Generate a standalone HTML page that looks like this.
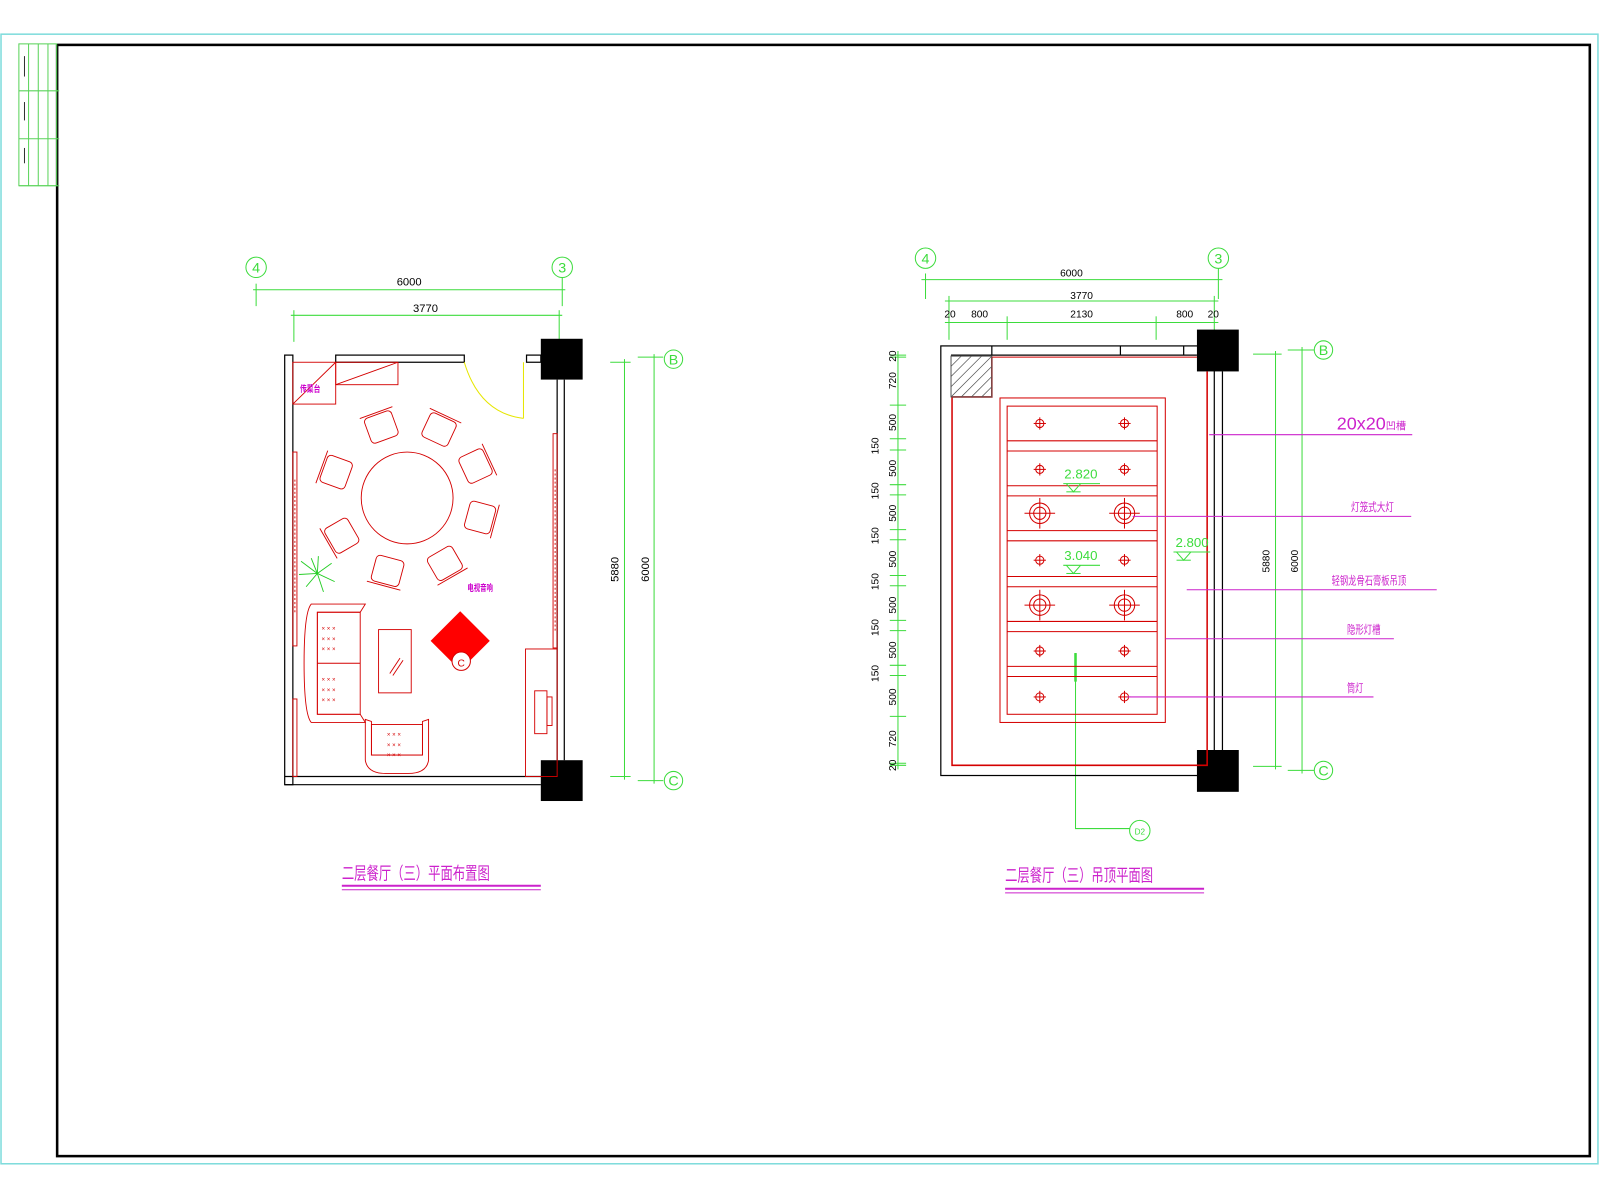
<!DOCTYPE html>
<html><head><meta charset="utf-8"><style>html,body{margin:0;padding:0;background:#fff}svg{display:block}</style></head>
<body>
<svg width="1600" height="1200" viewBox="0 0 1568 1176" xmlns="http://www.w3.org/2000/svg" font-family="Liberation Sans, Noto Sans CJK SC, sans-serif">
<rect width="1568" height="1176" fill="#fff"/>
<!-- frame -->
<rect x="1" y="33.5" width="1565" height="1107" fill="none" stroke="#7fdcdc" stroke-width="1.5"/>
<rect x="56" y="44" width="1502" height="1089" fill="none" stroke="#000" stroke-width="2.5"/>
<g stroke="#5ad35a" stroke-width="1" fill="none">
<rect x="18.5" y="43" width="37" height="139"/>
<line x1="28" y1="43" x2="28" y2="182"/><line x1="37.5" y1="43" x2="37.5" y2="182"/><line x1="47" y1="43" x2="47" y2="182"/>
<line x1="18.5" y1="89" x2="58" y2="89"/><line x1="18.5" y1="136" x2="58" y2="136"/><line x1="18.5" y1="182" x2="58" y2="182"/>
</g>
<g stroke="#333" stroke-width="1"><line x1="24" y1="55" x2="24" y2="75"/><line x1="24" y1="100" x2="24" y2="118"/><line x1="24" y1="145" x2="24" y2="160"/></g>

<!-- ================= LEFT PLAN ================= -->
<g stroke="#3ddc3d" stroke-width="1" fill="none">
<circle cx="251" cy="262" r="10"/><circle cx="551" cy="262" r="10"/>
<line x1="248" y1="284" x2="554" y2="284"/><line x1="251" y1="278" x2="251" y2="300"/><line x1="551" y1="272" x2="551" y2="300"/>
<line x1="285" y1="309" x2="551" y2="309"/><line x1="288" y1="304" x2="288" y2="335"/><line x1="548" y1="304" x2="548" y2="335"/>
<line x1="612" y1="352" x2="612" y2="764"/><line x1="598" y1="355" x2="618" y2="355"/><line x1="598" y1="761" x2="618" y2="761"/>
<line x1="641" y1="347" x2="641" y2="768"/><line x1="625" y1="350" x2="650" y2="350"/><line x1="625" y1="765" x2="650" y2="765"/>
<circle cx="660" cy="352" r="9"/><circle cx="660" cy="765" r="9"/>
</g>
<g fill="#3ddc3d" font-size="14" text-anchor="middle">
<text x="251" y="267">4</text><text x="551" y="267">3</text>
<text x="660" y="357">B</text><text x="660" y="770">C</text>
</g>
<g fill="#000" font-size="11" text-anchor="middle">
<text x="401" y="280">6000</text><text x="417" y="306">3770</text>
<text transform="translate(606,558) rotate(-90)">5880</text>
<text transform="translate(636,558) rotate(-90)">6000</text>
</g>
<!-- walls -->
<g stroke="#000" stroke-width="1.2" fill="none">
<rect x="279" y="348" width="8" height="421"/>
<rect x="329" y="348" width="126" height="7"/>
<rect x="516" y="348" width="14" height="7"/>
<line x1="546" y1="372" x2="546" y2="745"/><line x1="553" y1="372" x2="553" y2="745"/>
<line x1="279" y1="761" x2="530" y2="761"/><line x1="279" y1="769" x2="530" y2="769"/>
</g>
<rect x="530" y="332" width="41" height="40" fill="#000"/>
<rect x="530" y="745" width="41" height="40" fill="#000"/>
<!-- door -->
<path d="M455 355 Q470 405 513 410" stroke="#e6e600" fill="none"/>
<line x1="513" y1="355" x2="513" y2="410" stroke="#e6e600"/>
<!-- furniture red -->
<g stroke="#d40000" stroke-width="0.9" fill="none">
<rect x="287" y="355" width="42" height="41"/><line x1="287" y1="396" x2="329" y2="355"/>
<rect x="329" y="355" width="61" height="22"/><line x1="329" y1="377" x2="390" y2="355"/>
<circle cx="399" cy="488" r="45"/>
<g transform="translate(399,488)">
<g transform="rotate(-20) translate(0,-75)"><rect x="-14" y="-12" width="28" height="26" rx="4"/><line x1="-17" y1="-14" x2="17" y2="-14"/></g>
<g transform="rotate(25) translate(0,-75)"><rect x="-14" y="-12" width="28" height="26" rx="4"/><line x1="-17" y1="-14" x2="17" y2="-14"/></g>
<g transform="rotate(65) translate(0,-75)"><rect x="-14" y="-12" width="28" height="26" rx="4"/><line x1="-17" y1="-14" x2="17" y2="-14"/></g>
<g transform="rotate(105) translate(0,-75)"><rect x="-14" y="-12" width="28" height="26" rx="4"/><line x1="-17" y1="-14" x2="17" y2="-14"/></g>
<g transform="rotate(150) translate(0,-75)"><rect x="-14" y="-12" width="28" height="26" rx="4"/><line x1="-17" y1="-14" x2="17" y2="-14"/></g>
<g transform="rotate(195) translate(0,-75)"><rect x="-14" y="-12" width="28" height="26" rx="4"/><line x1="-17" y1="-14" x2="17" y2="-14"/></g>
<g transform="rotate(240) translate(0,-75)"><rect x="-14" y="-12" width="28" height="26" rx="4"/><line x1="-17" y1="-14" x2="17" y2="-14"/></g>
<g transform="rotate(290) translate(0,-75)"><rect x="-14" y="-12" width="28" height="26" rx="4"/><line x1="-17" y1="-14" x2="17" y2="-14"/></g>
</g>
<!-- curtains -->
<rect x="287" y="443" width="4" height="190"/><rect x="542" y="425" width="4" height="210"/>
<line x1="289" y1="470" x2="289" y2="600" stroke-dasharray="2 2"/><line x1="544" y1="460" x2="544" y2="620" stroke-dasharray="2 2"/>
<rect x="287" y="685" width="4" height="76"/>
<!-- sofa -->
<path d="M305 592 H358 L353 600 H311 V700 H353 L358 708 H305 Q298 700 298 650 Q298 600 305 592 Z"/>
<rect x="311" y="600" width="42" height="100"/><line x1="311" y1="650" x2="353" y2="650"/>
<rect x="371" y="617" width="32" height="62"/><line x1="382" y1="660" x2="392" y2="645"/><line x1="385" y1="662" x2="395" y2="647"/>
<path d="M358 705 V745 Q360 758 378 758 H400 Q418 758 420 745 V705 L414 707 V740 H364 V707 Z"/>
<rect x="364" y="710" width="50" height="30"/>
<rect x="515" y="636" width="31" height="125"/>
<rect x="524" y="677" width="12" height="42"/><rect x="536" y="683" width="5" height="28"/>
</g>
<g fill="#d40000" font-size="6" text-anchor="middle">
<text x="322" y="618">× × ×</text><text x="322" y="628">× × ×</text><text x="322" y="638">× × ×</text>
<text x="322" y="668">× × ×</text><text x="322" y="678">× × ×</text><text x="322" y="688">× × ×</text>
<text x="386" y="722">× × ×</text><text x="386" y="732">× × ×</text><text x="386" y="742">× × ×</text>
</g>
<polygon points="451,599 480,628 451,657 422,628" fill="#ff0000"/>
<circle cx="452" cy="648" r="9" fill="#fff" stroke="#d40000"/>
<text x="452" y="653" font-size="10" fill="#d40000" text-anchor="middle">C</text>
<!-- plant -->
<g stroke="#22cc22" stroke-width="0.9">
<line x1="311" y1="562" x2="295" y2="550"/><line x1="311" y1="562" x2="300" y2="575"/><line x1="311" y1="562" x2="325" y2="552"/><line x1="311" y1="562" x2="328" y2="570"/><line x1="311" y1="562" x2="312" y2="545"/><line x1="311" y1="562" x2="317" y2="580"/><line x1="311" y1="562" x2="293" y2="563"/><line x1="311" y1="562" x2="305" y2="547"/>
</g>
<g fill="#cc00cc" font-size="9" font-weight="bold">
<text x="294" y="384" textLength="20" lengthAdjust="spacingAndGlyphs">传菜台</text>
<text x="458" y="579" textLength="25" lengthAdjust="spacingAndGlyphs">电视音响</text>
</g>
<text x="335" y="862" font-size="17" fill="#cc22cc" textLength="145" lengthAdjust="spacingAndGlyphs">二层餐厅（三）平面布置图</text>
<line x1="335" y1="868" x2="530" y2="868" stroke="#cc22cc" stroke-width="2"/>
<line x1="335" y1="872" x2="530" y2="872" stroke="#cc22cc" stroke-width="1"/>

<!-- ================= RIGHT PLAN ================= -->
<g stroke="#3ddc3d" stroke-width="1" fill="none">
<circle cx="907" cy="253" r="10"/><circle cx="1194" cy="253" r="10"/>
<line x1="903" y1="274" x2="1198" y2="274"/><line x1="907" y1="268" x2="907" y2="293"/><line x1="1194" y1="263" x2="1194" y2="293"/>
<line x1="926" y1="295" x2="1194" y2="295"/><line x1="930" y1="290" x2="930" y2="333"/><line x1="1190" y1="290" x2="1190" y2="333"/>
<line x1="926" y1="316" x2="1194" y2="316"/><line x1="987" y1="310" x2="987" y2="333"/><line x1="1133" y1="310" x2="1133" y2="333"/>
<line x1="880" y1="344" x2="880" y2="754"/>
<line x1="1250" y1="344" x2="1250" y2="754"/><line x1="1228" y1="347" x2="1256" y2="347"/><line x1="1228" y1="751" x2="1256" y2="751"/>
<line x1="1276" y1="340" x2="1276" y2="758"/><line x1="1262" y1="343" x2="1288" y2="343"/><line x1="1262" y1="755" x2="1288" y2="755"/>
<circle cx="1297" cy="343" r="9"/><circle cx="1297" cy="755" r="9"/>
<polyline points="1054,640 1054,812 1107,812"/>
<circle cx="1117" cy="814" r="10"/>
</g>
<line x1="1054" y1="640" x2="1054" y2="668" stroke="#3ddc3d" stroke-width="2.5"/>
<g stroke="#3ddc3d" stroke-width="1">
<line x1="872" y1="348" x2="888" y2="348"/><line x1="872" y1="350" x2="888" y2="350"/><line x1="872" y1="397" x2="888" y2="397"/>
<line x1="872" y1="430" x2="888" y2="430"/><line x1="872" y1="441" x2="888" y2="441"/><line x1="872" y1="475" x2="888" y2="475"/><line x1="872" y1="485" x2="888" y2="485"/><line x1="872" y1="519" x2="888" y2="519"/><line x1="872" y1="529" x2="888" y2="529"/><line x1="872" y1="564" x2="888" y2="564"/><line x1="872" y1="574" x2="888" y2="574"/><line x1="872" y1="608" x2="888" y2="608"/><line x1="872" y1="618" x2="888" y2="618"/><line x1="872" y1="652" x2="888" y2="652"/><line x1="872" y1="662" x2="888" y2="662"/><line x1="872" y1="702" x2="888" y2="702"/><line x1="872" y1="748" x2="888" y2="748"/><line x1="872" y1="750" x2="888" y2="750"/>
</g>
<g fill="#000" font-size="10" text-anchor="middle">
<text transform="translate(878,349) rotate(-90)">20</text>
<text transform="translate(878,373) rotate(-90)">720</text>
<text transform="translate(878,414) rotate(-90)">500</text>
<text transform="translate(861,437) rotate(-90)">150</text>
<text transform="translate(878,459) rotate(-90)">500</text>
<text transform="translate(861,481) rotate(-90)">150</text>
<text transform="translate(878,503) rotate(-90)">500</text>
<text transform="translate(861,525) rotate(-90)">150</text>
<text transform="translate(878,548) rotate(-90)">500</text>
<text transform="translate(861,570) rotate(-90)">150</text>
<text transform="translate(878,593) rotate(-90)">500</text>
<text transform="translate(861,615) rotate(-90)">150</text>
<text transform="translate(878,637) rotate(-90)">500</text>
<text transform="translate(861,660) rotate(-90)">150</text>
<text transform="translate(878,683) rotate(-90)">500</text>
<text transform="translate(878,724) rotate(-90)">720</text>
<text transform="translate(878,750) rotate(-90)">20</text>
<text x="1050" y="271">6000</text><text x="1060" y="293">3770</text>
<text x="931" y="311">20</text><text x="960" y="311">800</text><text x="1060" y="311">2130</text><text x="1161" y="311">800</text><text x="1189" y="311">20</text>
<text transform="translate(1244,550) rotate(-90)">5880</text>
<text transform="translate(1272,550) rotate(-90)">6000</text>
</g>
<g fill="#3ddc3d" font-size="14" text-anchor="middle">
<text x="907" y="258">4</text><text x="1194" y="258">3</text>
<text x="1297" y="348">B</text><text x="1297" y="760">C</text>
<text x="1117" y="818" font-size="8">D2</text>
</g>
<!-- room -->
<g stroke="#000" stroke-width="1.2" fill="none">
<rect x="922" y="339" width="268" height="421"/>
<line x1="972" y1="339" x2="972" y2="348"/><line x1="1098" y1="339" x2="1098" y2="348"/><line x1="1160" y1="339" x2="1160" y2="348"/>
<line x1="932" y1="348" x2="1173" y2="348"/>
<line x1="1198" y1="364" x2="1198" y2="735"/>
</g>
<rect x="1173" y="323" width="41" height="41" fill="#000"/>
<rect x="1173" y="735" width="41" height="41" fill="#000"/>
<g stroke="#d40000" stroke-width="1" fill="none">
<polyline points="972,350 1173,350" />
<polyline points="972,350 972,389 933,389 933,750 1183,750 1183,364" stroke-width="1.5"/>
<rect x="932" y="349" width="40" height="40" stroke="#555"/>
<rect x="980" y="390" width="162" height="318"/>
<rect x="987" y="398" width="147" height="302"/>
<line x1="987" y1="432" x2="1134" y2="432"/><line x1="987" y1="442" x2="1134" y2="442"/>
<line x1="987" y1="476" x2="1134" y2="476"/><line x1="987" y1="486" x2="1134" y2="486"/>
<line x1="987" y1="520" x2="1134" y2="520"/><line x1="987" y1="530" x2="1134" y2="530"/>
<line x1="987" y1="565" x2="1134" y2="565"/><line x1="987" y1="575" x2="1134" y2="575"/>
<line x1="987" y1="609" x2="1134" y2="609"/><line x1="987" y1="619" x2="1134" y2="619"/>
<line x1="987" y1="653" x2="1134" y2="653"/><line x1="987" y1="663" x2="1134" y2="663"/>
</g>
<g stroke="#555" stroke-width="0.7"><line x1="932" y1="379" x2="962" y2="349"/><line x1="932" y1="369" x2="952" y2="349"/><line x1="932" y1="359" x2="942" y2="349"/><line x1="942" y1="389" x2="972" y2="359"/><line x1="952" y1="389" x2="972" y2="369"/><line x1="962" y1="389" x2="972" y2="379"/><line x1="932" y1="389" x2="972" y2="349"/></g>
<g stroke="#d40000" stroke-width="1" fill="none">
<g id="sl"><circle cx="1019" cy="415" r="4"/><line x1="1013" y1="415" x2="1025" y2="415"/><line x1="1019" y1="409" x2="1019" y2="421"/></g>
<use href="#sl" x="83"/><use href="#sl" y="45"/><use href="#sl" x="83" y="45"/>
<use href="#sl" y="134"/><use href="#sl" x="83" y="134"/>
<use href="#sl" y="223"/><use href="#sl" x="83" y="223"/><use href="#sl" y="268"/><use href="#sl" x="83" y="268"/>
<g id="bl"><circle cx="1019" cy="503" r="10"/><circle cx="1019" cy="503" r="6"/><line x1="1004" y1="503" x2="1034" y2="503"/><line x1="1019" y1="488" x2="1019" y2="518"/></g>
<use href="#bl" x="83"/><use href="#bl" y="90"/><use href="#bl" x="83" y="90"/>
</g>
<!-- elevations -->
<g stroke="#3ddc3d" fill="none" stroke-width="1">
<line x1="1042" y1="474" x2="1078" y2="474"/><polyline points="1045,474 1052,482 1059,474"/><line x1="1045" y1="482" x2="1059" y2="482"/>
<line x1="1042" y1="554" x2="1078" y2="554"/><polyline points="1045,554 1052,562 1059,554"/><line x1="1045" y1="562" x2="1059" y2="562"/>
<line x1="1150" y1="541" x2="1186" y2="541"/><polyline points="1153,541 1160,549 1167,541"/><line x1="1153" y1="549" x2="1167" y2="549"/>
</g>
<g fill="#3ddc3d" font-size="13">
<text x="1043" y="469">2.820</text><text x="1043" y="549">3.040</text><text x="1152" y="536">2.800</text>
</g>
<!-- leaders -->
<g stroke="#cc22cc" stroke-width="1">
<line x1="1185" y1="426" x2="1384" y2="426"/>
<line x1="1110" y1="506" x2="1383" y2="506"/>
<line x1="1163" y1="578" x2="1408" y2="578"/>
<line x1="1142" y1="626" x2="1366" y2="626"/>
<line x1="1105" y1="683" x2="1346" y2="683"/>
</g>
<g fill="#cc22cc" font-size="11">
<text x="1310" y="421" font-size="17" textLength="48" lengthAdjust="spacingAndGlyphs">20x20</text><text x="1358" y="421" font-size="10">凹槽</text>
<text x="1324" y="501" textLength="42" lengthAdjust="spacingAndGlyphs">灯笼式大灯</text>
<text x="1305" y="573" textLength="73" lengthAdjust="spacingAndGlyphs">轻钢龙骨石膏板吊顶</text>
<text x="1320" y="621" textLength="33" lengthAdjust="spacingAndGlyphs">隐形灯槽</text>
<text x="1320" y="678" textLength="16" lengthAdjust="spacingAndGlyphs">筒灯</text>
</g>
<text x="985" y="864" font-size="17" fill="#cc22cc" textLength="145" lengthAdjust="spacingAndGlyphs">二层餐厅（三）吊顶平面图</text>
<line x1="985" y1="871" x2="1180" y2="871" stroke="#cc22cc" stroke-width="2"/>
<line x1="985" y1="875" x2="1180" y2="875" stroke="#cc22cc" stroke-width="1"/>
</svg>
</body></html>
